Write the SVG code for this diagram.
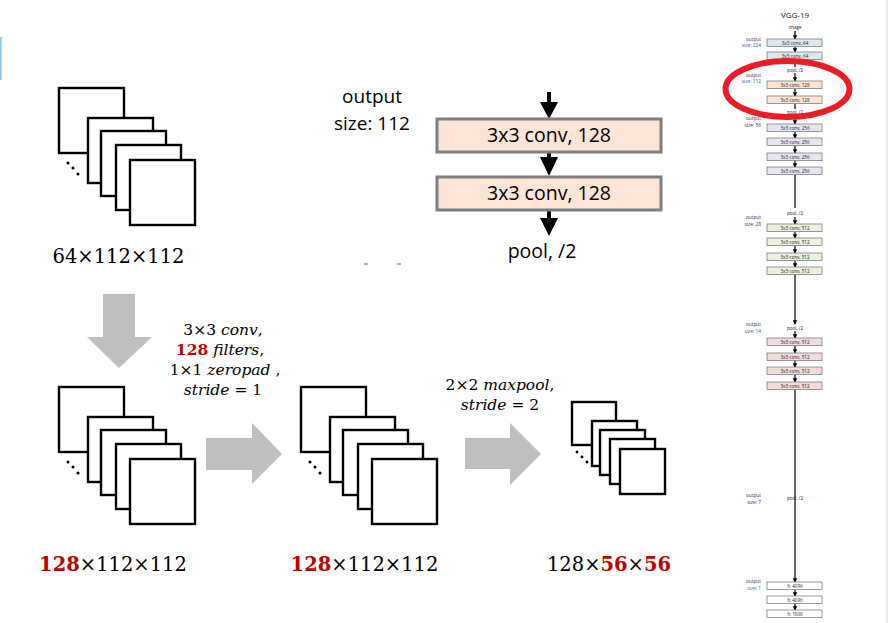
<svg xmlns="http://www.w3.org/2000/svg" width="889" height="623" viewBox="0 0 889 623">
<style>
.fm{fill:#fff;stroke:#000;stroke-width:2.4}
.dot{fill:#000}
.big{fill:#bfbfbf}
.lbl{font-family:"DejaVu Serif",serif;font-size:19.5px;fill:#000;text-anchor:middle}
.math{font-family:"DejaVu Serif",serif;font-size:15.5px;fill:#000;text-anchor:middle}
.it{font-style:italic}
.red{fill:#c00000;font-weight:bold}
.cal{font-family:"Open Sans",sans-serif;fill:#000;text-anchor:middle}
.box{fill:#fce4d6;stroke:#7f7f7f;stroke-width:3}
.tb{stroke:#7f7f7f;stroke-width:0.8}
.tt{font-family:"Open Sans",sans-serif;font-size:4.6px;fill:#222;text-anchor:middle}
.to{font-family:"Open Sans",sans-serif;font-size:4.8px;text-anchor:end}
.ln{stroke:#000;stroke-width:1.2;fill:none}
</style>
<defs>
<g id="stackL">
<rect class="fm" x="0" y="0" width="65" height="65"/>
<rect class="fm" x="29" y="30" width="65" height="65"/>
<rect class="fm" x="42" y="43" width="65" height="65"/>
<rect class="fm" x="57" y="57" width="65" height="65"/>
<rect class="fm" x="71" y="72" width="65" height="65"/>
<circle class="dot" cx="9" cy="75" r="1.5"/>
<circle class="dot" cx="14" cy="80" r="1.5"/>
<circle class="dot" cx="19" cy="86" r="1.5"/>
</g>
<marker id="ah" viewBox="0 0 6 6" refX="5" refY="3" markerWidth="4.5" markerHeight="4.5" orient="auto" markerUnits="userSpaceOnUse">
<path d="M0,0 L6,3 L0,6 z" fill="#000"/>
</marker>
</defs>

<line x1="0.8" y1="37" x2="0.8" y2="80" stroke="#8ec3ea" stroke-width="1.6"/>
<line x1="887" y1="0" x2="887" y2="623" stroke="#d9d9d9" stroke-width="1"/>

<g id="stack1"><use href="#stackL" x="59" y="88"/>
<text class="lbl" x="118.5" y="263">64×112×112</text></g>

<g id="stack2"><use href="#stackL" x="59" y="387"/>
<text class="lbl" x="113" y="571"><tspan class="red">128</tspan>×112×112</text></g>

<g id="stack3"><use href="#stackL" x="301" y="387"/>
<text class="lbl" x="364.5" y="571"><tspan class="red">128</tspan>×112×112</text></g>

<g id="stack4">
<rect class="fm" x="572" y="402" width="44" height="43"/>
<rect class="fm" x="592" y="421" width="45" height="45"/>
<rect class="fm" x="600" y="430" width="45" height="45"/>
<rect class="fm" x="610" y="439" width="45" height="45"/>
<rect class="fm" x="620" y="449" width="45" height="45"/>
<circle class="dot" cx="577" cy="452" r="1.4"/>
<circle class="dot" cx="582" cy="457" r="1.4"/>
<circle class="dot" cx="587" cy="462" r="1.4"/>
<text class="lbl" x="609" y="571">128×<tspan class="red">56</tspan>×<tspan class="red">56</tspan></text>
</g>

<g id="connectors">
<polygon class="big" points="103,294 135,294 135,337 152,337 119,368 87,337 103,337"/>
<polygon class="big" points="206,438 252,438 252,423 282,454 252,484 252,470 206,470"/>
<polygon class="big" points="465,438 510,438 510,423 541,454 510,485 510,469 465,469"/>
</g>

<g id="conv-label">
<text class="math" x="223" y="335">3×3 <tspan class="it">conv</tspan>,</text>
<text class="math" x="220" y="355"><tspan class="red">128</tspan> <tspan class="it">filters</tspan>,</text>
<text class="math" x="225" y="375">1×1 <tspan class="it">zeropad</tspan> ,</text>
<text class="math" x="223" y="395"><tspan class="it">stride</tspan> = 1</text>
</g>

<g id="pool-label">
<text class="math" x="500" y="390">2×2 <tspan class="it">maxpool</tspan>,</text>
<text class="math" x="500" y="410"><tspan class="it">stride</tspan> = 2</text>
</g>

<g id="block">
<text class="cal" x="372" y="103" font-size="19">output</text>
<text class="cal" x="372" y="130" font-size="19">size: 112</text>
<g id="arrows-top">
<rect x="547" y="92" width="4" height="12" fill="#000"/>
<polygon points="540,102 558,102 549,119" fill="#000"/>
<rect x="547" y="152" width="4" height="7" fill="#000"/>
<polygon points="540,157 558,157 549,176" fill="#000"/>
<rect x="547" y="210" width="4" height="10" fill="#000"/>
<polygon points="540,218 558,218 549,236" fill="#000"/>
</g>
<g id="box1"><rect class="box" x="437" y="119" width="224" height="33"/>
<text class="cal" x="549" y="142" font-size="19.5">3x3 conv, 128</text></g>
<g id="box2"><rect class="box" x="437" y="177" width="224" height="33"/>
<text class="cal" x="549" y="200" font-size="19.5">3x3 conv, 128</text></g>
<text class="cal" x="542" y="258" font-size="19.5">pool, /2</text>
<line x1="364" y1="264" x2="368" y2="264" stroke="#999" stroke-width="1.5"/>
<line x1="397" y1="264" x2="401" y2="264" stroke="#999" stroke-width="1.5"/>
</g>

<g id="vgg19">
<text x="795" y="18" font-family="Open Sans,sans-serif" font-size="8" text-anchor="middle" fill="#222">VGG-19</text>
<text class="tt" x="795" y="29">image</text>
<g id="vgg-lines">
<line class="ln" x1="795" y1="31" x2="795" y2="39" marker-end="url(#ah)"/>
<line class="ln" x1="795" y1="46.5" x2="795" y2="52" marker-end="url(#ah)"/>
<line class="ln" x1="795" y1="59.5" x2="795" y2="67"/>
<line class="ln" x1="795" y1="73" x2="795" y2="81" marker-end="url(#ah)"/>
<line class="ln" x1="795" y1="88.5" x2="795" y2="96" marker-end="url(#ah)"/>
<line class="ln" x1="795" y1="103.5" x2="795" y2="109"/>
<line class="ln" x1="795" y1="115" x2="795" y2="124" marker-end="url(#ah)"/>
<line class="ln" x1="795" y1="131.5" x2="795" y2="138" marker-end="url(#ah)"/>
<line class="ln" x1="795" y1="145.5" x2="795" y2="153" marker-end="url(#ah)"/>
<line class="ln" x1="795" y1="160.5" x2="795" y2="167" marker-end="url(#ah)"/>
<line class="ln" x1="795" y1="174.5" x2="795" y2="208"/>
<line class="ln" x1="795" y1="217" x2="795" y2="224" marker-end="url(#ah)"/>
<line class="ln" x1="795" y1="231.5" x2="795" y2="238" marker-end="url(#ah)"/>
<line class="ln" x1="795" y1="245.5" x2="795" y2="253" marker-end="url(#ah)"/>
<line class="ln" x1="795" y1="260.5" x2="795" y2="267" marker-end="url(#ah)"/>
<line class="ln" x1="795" y1="274.5" x2="795" y2="324" marker-end="url(#ah)"/>
<line class="ln" x1="795" y1="331" x2="795" y2="338" marker-end="url(#ah)"/>
<line class="ln" x1="795" y1="345.5" x2="795" y2="353" marker-end="url(#ah)"/>
<line class="ln" x1="795" y1="360.5" x2="795" y2="367" marker-end="url(#ah)"/>
<line class="ln" x1="795" y1="374.5" x2="795" y2="382" marker-end="url(#ah)"/>
<line class="ln" x1="795" y1="389.5" x2="795" y2="582" marker-end="url(#ah)"/>
<line class="ln" x1="795" y1="589.5" x2="795" y2="596" marker-end="url(#ah)"/>
<line class="ln" x1="795" y1="603.5" x2="795" y2="610" marker-end="url(#ah)"/>
</g>
<g fill="#dae8ef" class="tb">
<rect x="767" y="39" width="55" height="7.5"/><rect x="767" y="52" width="55" height="7.5"/>
</g>
<g fill="#fce4d6" class="tb">
<rect x="767" y="81" width="55" height="7.5"/><rect x="767" y="96" width="55" height="7.5"/>
</g>
<g fill="#e6e6f0" class="tb">
<rect x="767" y="124" width="55" height="7.5"/><rect x="767" y="138" width="55" height="7.5"/>
<rect x="767" y="153" width="55" height="7.5"/><rect x="767" y="167" width="55" height="7.5"/>
</g>
<g fill="#ebf1de" class="tb">
<rect x="767" y="224" width="55" height="7.5"/><rect x="767" y="238" width="55" height="7.5"/>
<rect x="767" y="253" width="55" height="7.5"/><rect x="767" y="267" width="55" height="7.5"/>
</g>
<g fill="#f2dcdb" class="tb">
<rect x="767" y="338" width="55" height="7.5"/><rect x="767" y="353" width="55" height="7.5"/>
<rect x="767" y="367" width="55" height="7.5"/><rect x="767" y="382" width="55" height="7.5"/>
</g>
<g fill="#fff" class="tb">
<rect x="767" y="582" width="55" height="7.5"/><rect x="767" y="596" width="55" height="7.5"/>
<rect x="767" y="610" width="55" height="7.5"/>
</g>
<g>
<text class="tt" x="795" y="44.6">3x3 conv, 64</text><text class="tt" x="795" y="57.6">3x3 conv, 64</text>
<text class="tt" x="795" y="72">pool, /2</text>
<text class="tt" x="795" y="86.6">3x3 conv, 128</text><text class="tt" x="795" y="101.6">3x3 conv, 128</text>
<text class="tt" x="795" y="114">pool, /2</text>
<text class="tt" x="795" y="129.6">3x3 conv, 256</text><text class="tt" x="795" y="143.6">3x3 conv, 256</text>
<text class="tt" x="795" y="158.6">3x3 conv, 256</text><text class="tt" x="795" y="172.6">3x3 conv, 256</text>
<text class="tt" x="795" y="215">pool, /2</text>
<text class="tt" x="795" y="229.6">3x3 conv, 512</text><text class="tt" x="795" y="243.6">3x3 conv, 512</text>
<text class="tt" x="795" y="258.6">3x3 conv, 512</text><text class="tt" x="795" y="272.6">3x3 conv, 512</text>
<text class="tt" x="795" y="330">pool, /2</text>
<text class="tt" x="795" y="343.6">3x3 conv, 512</text><text class="tt" x="795" y="358.6">3x3 conv, 512</text>
<text class="tt" x="795" y="372.6">3x3 conv, 512</text><text class="tt" x="795" y="387.6">3x3 conv, 512</text>
<text class="tt" x="795" y="500">pool, /2</text>
<text class="tt" x="795" y="587.6">fc 4096</text><text class="tt" x="795" y="601.6">fc 4096</text>
<text class="tt" x="795" y="615.6">fc 1000</text>
</g>
<g>
<text class="to" x="761" y="41" fill="#3b2c5e">output</text><text class="to" x="761" y="47" fill="#1f5f9f">size: 224</text>
<text class="to" x="761" y="77" fill="#3b2c5e">output</text><text class="to" x="761" y="83" fill="#1f5f9f">size: 112</text>
<text class="to" x="761" y="120" fill="#3b2c5e">output</text><text class="to" x="761" y="127" fill="#3b2c5e">size: 56</text>
<text class="to" x="761" y="219" fill="#3b2c5e">output</text><text class="to" x="761" y="226" fill="#3b2c5e">size: 28</text>
<text class="to" x="761" y="326" fill="#3b2c5e">output</text><text class="to" x="761" y="333" fill="#1f5f9f">size: 14</text>
<text class="to" x="761" y="497" fill="#3b2c5e">output</text><text class="to" x="761" y="504" fill="#3b2c5e">size: 7</text>
<text class="to" x="761" y="583" fill="#3b2c5e">output</text><text class="to" x="761" y="590" fill="#1f5f9f">size: 1</text>
</g>
<ellipse cx="787.5" cy="89" rx="62" ry="28" fill="none" stroke="#ec1c24" stroke-width="6"/>
</g>
</svg>
